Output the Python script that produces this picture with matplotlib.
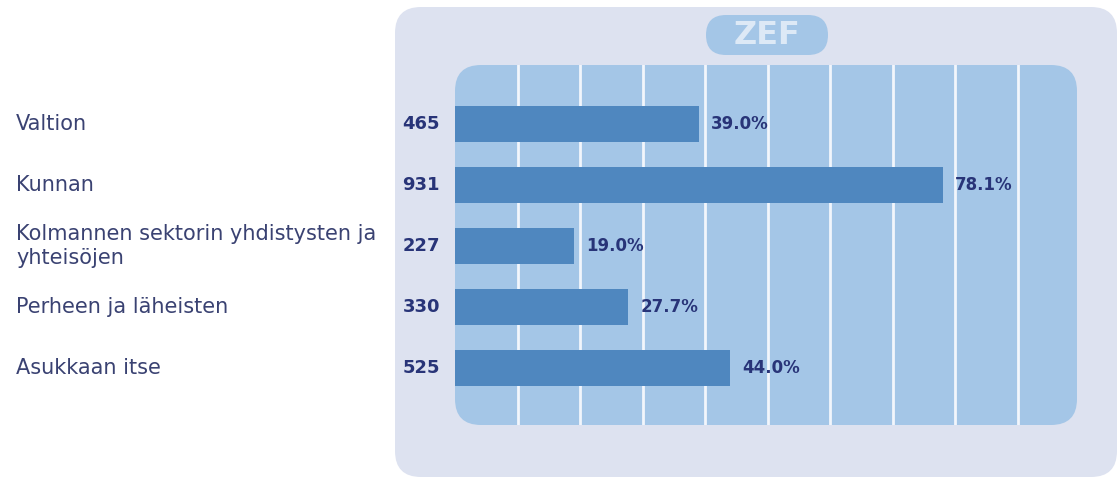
import matplotlib.pyplot as plt
from matplotlib.patches import FancyBboxPatch

# data
categories = ['Valtion', 'Kunnan', 'Kolmannen sektorin yhdistysten ja\nyhteisöjen',
              'Perheen ja läheisten', 'Asukkaan itse']
counts = [465, 931, 227, 330, 525]
percents = [39.0, 78.1, 19.0, 27.7, 44.0]

W, H = 1119, 480
fig = plt.figure(figsize=(W / 100, H / 100), dpi=100)
fig.patch.set_facecolor('white')

# background panels, drawn in pixel coordinates
bg = fig.add_axes([0, 0, 1, 1], zorder=0)
bg.set_xlim(0, W)
bg.set_ylim(H, 0)
bg.axis('off')
bg.add_patch(FancyBboxPatch((395, 7), 722, 470, boxstyle='round,pad=0,rounding_size=26',
                            fc='#dde2f0', ec='none'))
bg.add_patch(FancyBboxPatch((455, 65), 622, 360, boxstyle='round,pad=0,rounding_size=26',
                            fc='#a4c6e7', ec='none'))
bg.add_patch(FancyBboxPatch((706, 15), 122, 40, boxstyle='round,pad=0,rounding_size=20',
                            fc='#a4c6e7', ec='none'))
bg.text(767, 36, 'ZEF', ha='center', va='center', fontsize=23, fontweight='bold',
        color='#dde9f6')

# bar chart
ax = fig.add_axes([455 / W, (H - 425) / H, 625 / W, 360 / H], zorder=2)
ax.set_facecolor('none')
y = list(range(len(categories)))
ax.barh(y, percents, height=0.6, color='#4f87bf', zorder=3)
ax.set_xlim(0, 100)
ax.set_ylim(4.934, -0.967)
ax.set_xticks(range(10, 100, 10))
ax.grid(axis='x', color='#f2f6fc', linewidth=2)
ax.set_axisbelow(True)
ax.tick_params(left=False, bottom=False, labelleft=False, labelbottom=False)
for s in ax.spines.values():
    s.set_visible(False)

for i, (lab, n, p) in enumerate(zip(categories, counts, percents)):
    ax.annotate(str(n), xy=(0, i), xytext=(-15, 0), textcoords='offset pixels',
                ha='right', va='center', fontsize=13, fontweight='bold', color='#283478')
    ax.annotate(f'{p:.1f}%', xy=(p, i), xytext=(12, 0), textcoords='offset pixels',
                ha='left', va='center', fontsize=12, fontweight='bold', color='#283478')
    ax.annotate(lab, xy=(16, i), xycoords=('figure pixels', 'data'),
                ha='left', va='center', fontsize=15, color='#3a4272',
                linespacing=1.2, annotation_clip=False)

plt.savefig('out.png', dpi=100)
